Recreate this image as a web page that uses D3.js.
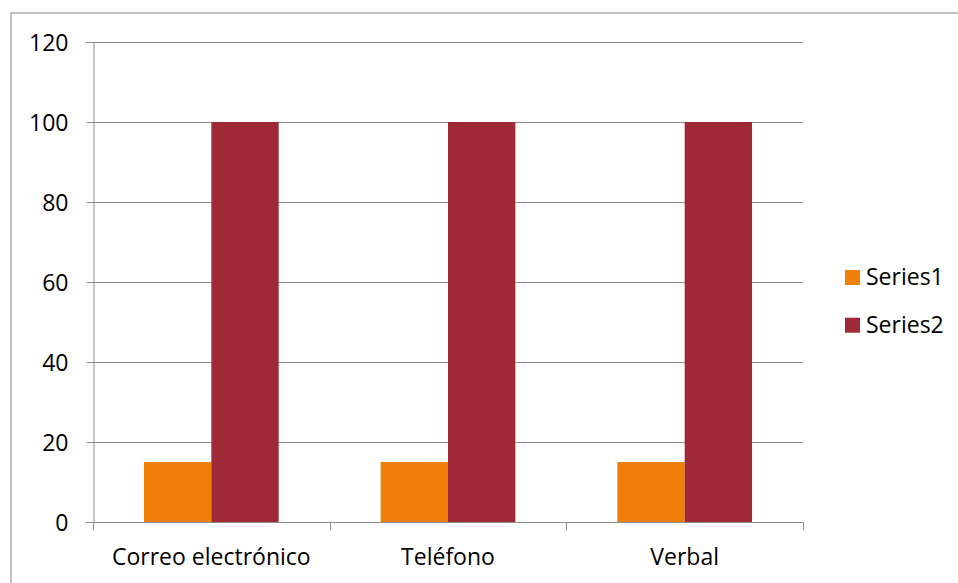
<!DOCTYPE html>
<html>
<head>
<meta charset="utf-8">
<script src="https://cdn.jsdelivr.net/npm/d3@7"></script>
<style>
  html, body { margin: 0; padding: 0; background: #fff; }
  svg { display: block; font-family: "Open Sans", sans-serif; }
</style>
</head>
<body>
<svg id="chart" width="958" height="583"></svg>
<script>
// Chart data
const categories = ["Correo electrónico", "Teléfono", "Verbal"];
const seriesNames = ["Series1", "Series2"];
const series1 = [15, 15, 15];
const series2 = [100, 100, 100];
const yTicks = [0, 20, 40, 60, 80, 100, 120];
const seriesColors = ["#F07F09", "#9F2936"];

const seriesValues = [series1, series2];

const svg = d3.select("#chart");
const W = 958, H = 583;
const plot = { left: 93, right: 803, top: 42, bottom: 522 };
const gridColor = "#8c8c8c";

// Outer chart border (continues past the right and bottom edges)
svg.append("rect")
  .attr("x", 11).attr("y", 13)
  .attr("width", W + 20).attr("height", H + 20)
  .attr("fill", "none")
  .attr("stroke", "#a6a6a6")
  .attr("stroke-width", 1.4);

const y = d3.scaleLinear().domain([0, 120]).range([plot.bottom, plot.top]);
const x0 = d3.scaleBand().domain(categories).range([plot.left, plot.right]).padding(0);
const x1 = d3.scaleBand().domain(seriesNames).range([0, x0.bandwidth()])
  .paddingInner(0).paddingOuter(0.757);

// Horizontal gridlines
svg.append("g").selectAll("line")
  .data(yTicks.filter(t => t > 0))
  .join("line")
  .attr("x1", plot.left).attr("x2", plot.right)
  .attr("y1", d => Math.round(y(d)) + 0.5).attr("y2", d => Math.round(y(d)) + 0.5)
  .attr("stroke", gridColor).attr("stroke-width", 1);

// Bars
const rows = categories.map((c, i) => ({ cat: c, vals: seriesNames.map((s, j) => ({ s, j, v: seriesValues[j][i] })) }));
svg.append("g").selectAll("g")
  .data(rows)
  .join("g")
  .attr("transform", d => `translate(${x0(d.cat)},0)`)
  .selectAll("rect")
  .data(d => d.vals)
  .join("rect")
  .attr("x", d => x1(d.s))
  .attr("width", x1.bandwidth())
  .attr("y", d => y(d.v))
  .attr("height", d => y(0) - y(d.v))
  .attr("fill", d => seriesColors[d.j]);

// Y axis
const yAxis = d3.axisLeft(y).tickValues(yTicks).tickSize(7).tickPadding(18).tickFormat(d3.format("d"));
const gy = svg.append("g").attr("transform", `translate(${plot.left + 0.5},0)`).call(yAxis);
gy.select(".domain").attr("stroke", gridColor);
gy.selectAll(".tick line").attr("stroke", gridColor);
gy.selectAll(".tick text")
  .attr("font-size", 23).attr("fill", "#000")
  .attr("font-family", "Open Sans, sans-serif")
  .attr("dy", "0.36em");

// X axis: ticks at category boundaries
const boundaries = categories.map(c => x0(c)).concat([plot.right]);
svg.append("line")
  .attr("x1", plot.left).attr("x2", plot.right)
  .attr("y1", plot.bottom + 0.5).attr("y2", plot.bottom + 0.5)
  .attr("stroke", gridColor);
svg.append("g").selectAll("line")
  .data(boundaries)
  .join("line")
  .attr("x1", d => Math.round(d) + 0.5).attr("x2", d => Math.round(d) + 0.5)
  .attr("y1", plot.bottom).attr("y2", plot.bottom + 8)
  .attr("stroke", gridColor);
svg.append("g").selectAll("text")
  .data(categories)
  .join("text")
  .attr("x", d => x0(d) + x0.bandwidth() / 2)
  .attr("y", 565)
  .attr("text-anchor", "middle")
  .attr("font-size", 23)
  .attr("fill", "#000")
  .text(d => d);

// Legend
const legend = svg.append("g").selectAll("g")
  .data(seriesNames)
  .join("g")
  .attr("transform", (d, i) => `translate(845,${270 + i * 47.7})`);
legend.append("rect")
  .attr("width", 15).attr("height", 15)
  .attr("fill", (d, i) => seriesColors[i]);
legend.append("text")
  .attr("x", 21).attr("y", 15)
  .attr("font-size", 23)
  .attr("fill", "#000")
  .text(d => d);
</script>
</body>
</html>
